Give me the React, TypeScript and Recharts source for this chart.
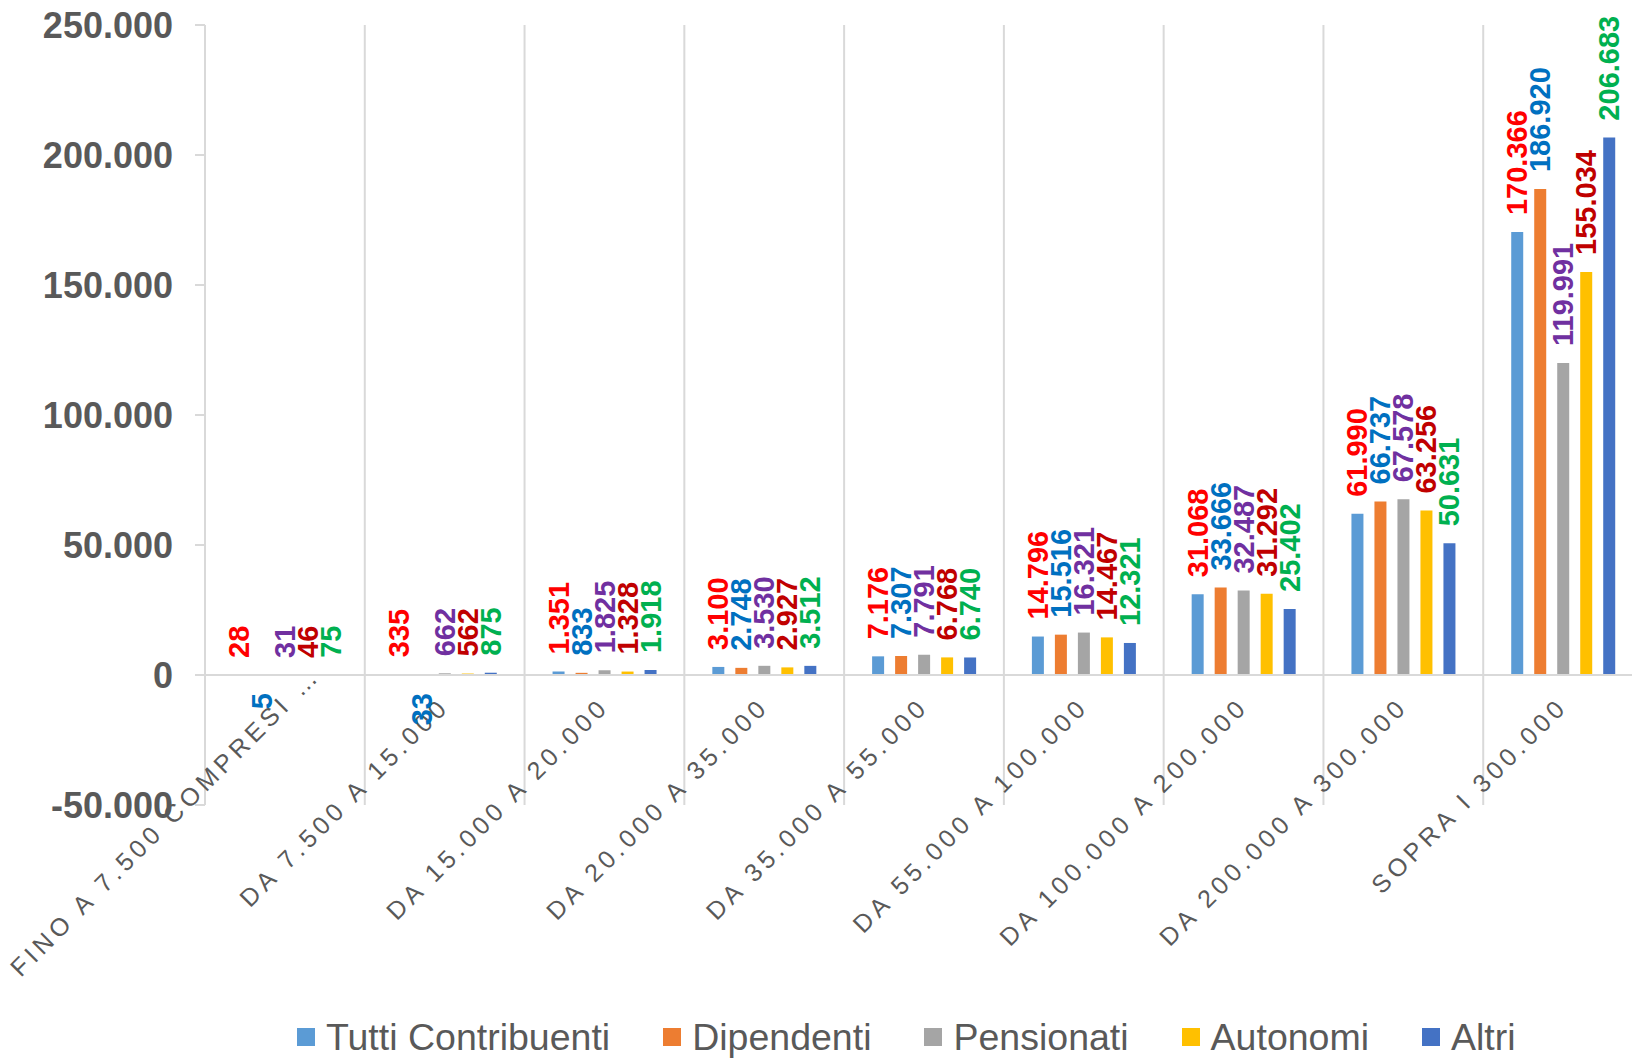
import React from "react";
import {
  BarChart,
  Bar,
  XAxis,
  YAxis,
  CartesianGrid,
  Legend,
  LabelList,
  ReferenceLine,
} from "recharts";

// categorie di reddito
const categories = [
  "FINO A 7.500 COMPRESI …",
  "DA 7.500 A 15.000",
  "DA 15.000 A 20.000",
  "DA 20.000 A 35.000",
  "DA 35.000 A 55.000",
  "DA 55.000 A 100.000",
  "DA 100.000 A 200.000",
  "DA 200.000 A 300.000",
  "SOPRA I 300.000",
];

const tuttiContribuenti = [28, 335, 1351, 3100, 7176, 14796, 31068, 61990, 170366];
const dipendenti = [-5, -33, 833, 2748, 7307, 15516, 33666, 66737, 186920];
const pensionati = [31, 662, 1825, 3530, 7791, 16321, 32487, 67578, 119991];
const autonomi = [46, 562, 1328, 2927, 6768, 14467, 31292, 63256, 155034];
const altri = [75, 875, 1918, 3512, 6740, 12321, 25402, 50631, 206683];

const yTicks = [-50000, 0, 50000, 100000, 150000, 200000, 250000];

const series = [
  { key: "tutti", name: "Tutti Contribuenti", values: tuttiContribuenti, fill: "#5B9BD5", labelColor: "#FF0000" },
  { key: "dipendenti", name: "Dipendenti", values: dipendenti, fill: "#ED7D31", labelColor: "#0070C0" },
  { key: "pensionati", name: "Pensionati", values: pensionati, fill: "#A5A5A5", labelColor: "#7030A0" },
  { key: "autonomi", name: "Autonomi", values: autonomi, fill: "#FFC000", labelColor: "#C00000" },
  { key: "altri", name: "Altri", values: altri, fill: "#4472C4", labelColor: "#00B050" },
];

const data = categories.map((name, i) => {
  const row: Record<string, string | number> = { name };
  series.forEach((s) => (row[s.key] = s.values[i]));
  return row;
});

const FONT = "'Liberation Sans', Arial, sans-serif";
const GRAY = "#595959";
const LINE = "#d9d9d9";

const CHART_W = 1650;
const CHART_H = 1058;
const PLOT_TOP = 25;
const PLOT_BOTTOM = 805;
const X_AXIS_H = 30;
const Y_MIN = yTicks[0];
const Y_MAX = yTicks[yTicks.length - 1];
const ZERO_Y = PLOT_TOP + ((PLOT_BOTTOM - PLOT_TOP) * Y_MAX) / (Y_MAX - Y_MIN);

const formatIt = (n: number) =>
  String(Math.abs(n)).replace(/\B(?=(\d{3})+(?!\d))/g, ".");

const formatTick = (n: number) => (n < 0 ? "-" : "") + formatIt(n);

const CategoryTick = (props: any) => {
  const { x, payload, index } = props;
  // la prima etichetta è spostata in alto a destra, come nell'originale
  const shift = index === 0 ? 31 : 0;
  const ax = x + 6 + shift;
  const ay = ZERO_Y + 33 - shift;
  return (
    <text
      x={ax}
      y={ay}
      transform={`rotate(-45 ${ax} ${ay})`}
      textAnchor="end"
      fill={GRAY}
      fontSize={25}
      letterSpacing={4.5}
      fontFamily={FONT}
    >
      {payload.value}
    </text>
  );
};

const makeLabel = (color: string) => (props: any) => {
  const vb = props.viewBox ?? props;
  const { x, y, width, height } = vb;
  const value = Number(props.value);
  const cx = x + width / 2;
  const top = Math.min(y, y + height);
  const bottom = Math.max(y, y + height);
  const neg = value < 0;
  const ly = neg ? bottom + 18 : top - 17;
  return (
    <text
      x={cx}
      y={ly}
      transform={`rotate(-90 ${cx} ${ly})`}
      textAnchor={neg ? "end" : "start"}
      dominantBaseline="central"
      fill={color}
      fontSize={29}
      fontWeight="bold"
      fontFamily={FONT}
    >
      {formatIt(value)}
    </text>
  );
};

const renderLegend = () => (
  <div
    style={{
      display: "flex",
      alignItems: "center",
      fontFamily: FONT,
      fontSize: 37.5,
      color: GRAY,
      lineHeight: "44px",
      whiteSpace: "nowrap",
    }}
  >
    {series.map((s) => (
      <div key={s.key} style={{ display: "flex", alignItems: "center", marginRight: 53 }}>
        <span
          style={{ width: 18, height: 18, background: s.fill, marginRight: 11, display: "inline-block" }}
        />
        {s.name}
      </div>
    ))}
  </div>
);

export default function App() {
  return (
    <div
      style={{
        position: "absolute",
        left: 0,
        top: 0,
        width: 1632,
        height: 1058,
        overflow: "hidden",
        background: "#fff",
      }}
    >
      <BarChart
        width={CHART_W}
        height={CHART_H}
        data={data}
        margin={{ top: PLOT_TOP, right: 7, bottom: CHART_H - PLOT_BOTTOM - X_AXIS_H, left: 0 }}
        barSize={12}
        barGap={11}
      >
        <CartesianGrid
          horizontal={false}
          stroke={LINE}
          strokeWidth={2}
          verticalCoordinatesGenerator={({ offset }: any) =>
            [...categories, ""].map((_, i) => offset.left + (i * offset.width) / categories.length)
          }
        />
        <XAxis
          dataKey="name"
          height={X_AXIS_H}
          axisLine={false}
          tickLine={false}
          interval={0}
          tick={<CategoryTick />}
        />
        <YAxis
          width={205}
          domain={[Y_MIN, Y_MAX]}
          ticks={yTicks}
          tickFormatter={formatTick}
          axisLine={{ stroke: LINE, strokeWidth: 2 }}
          tickLine={{ stroke: LINE, strokeWidth: 2 }}
          tickSize={10}
          tickMargin={22}
          tick={{ fill: GRAY, fontSize: 36, fontWeight: "bold", fontFamily: FONT }}
        />
        <Legend
          verticalAlign="middle"
          align="center"
          content={renderLegend}
          wrapperStyle={{ top: 1015, left: 297, width: "auto", height: "auto" }}
        />
        {series.map((s) => (
          <Bar key={s.key} dataKey={s.key} name={s.name} fill={s.fill} isAnimationActive={false}>
            <LabelList dataKey={s.key} content={makeLabel(s.labelColor)} />
          </Bar>
        ))}
        <ReferenceLine y={0} stroke={LINE} strokeWidth={2} />
      </BarChart>
    </div>
  );
}
